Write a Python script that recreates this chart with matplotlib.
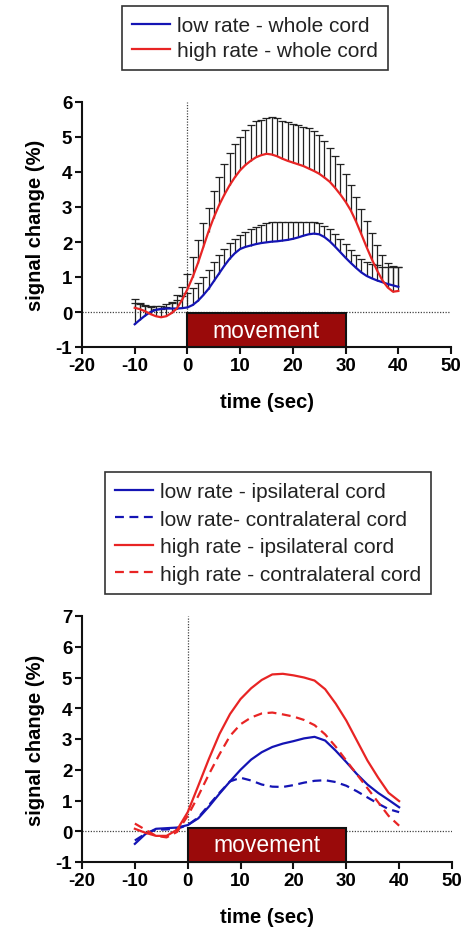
import numpy as np
import matplotlib
matplotlib.use("Agg")
import matplotlib.pyplot as plt
from matplotlib.patches import Rectangle

plt.rcParams['font.family'] = ['Liberation Sans', 'DejaVu Sans']
plt.rcParams['axes.unicode_minus'] = False

# ---------------- data ----------------
# top panel: 1-s samples from -10 to 40 s
t_top = list(range(-10, 41))
low_whole = [-0.35, -0.22, -0.10, 0.00, 0.06, 0.09, 0.10, 0.10, 0.10, 0.11,
             0.13, 0.20, 0.32, 0.48, 0.66, 0.88, 1.10, 1.32, 1.52, 1.68,
             1.80, 1.86, 1.90, 1.94, 1.97, 1.99, 2.01, 2.02, 2.04, 2.06,
             2.09, 2.13, 2.18, 2.22, 2.24, 2.22, 2.14, 2.02, 1.87, 1.71,
             1.55, 1.40, 1.26, 1.13, 1.03, 0.96, 0.90, 0.85, 0.80, 0.76,
             0.72]
low_whole_upper = [0.38, 0.25, 0.20, 0.18, 0.17, 0.18, 0.22, 0.27, 0.35, 0.45,
                   0.55, 0.68, 0.82, 1.00, 1.20, 1.42, 1.62, 1.80, 1.97, 2.10,
                   2.20, 2.28, 2.36, 2.42, 2.48, 2.53, 2.56, 2.57, 2.57, 2.57,
                   2.57, 2.57, 2.57, 2.57, 2.57, 2.55, 2.47, 2.36, 2.22, 2.08,
                   1.93, 1.78, 1.64, 1.52, 1.44, 1.38, 1.33, 1.30, 1.30, 1.30,
                   1.28]
high_whole = [0.12, 0.08, 0.02, -0.06, -0.12, -0.15, -0.12, -0.03, 0.10, 0.35,
              0.65, 1.00, 1.40, 1.85, 2.30, 2.70, 3.05, 3.35, 3.62, 3.85,
              4.05, 4.20, 4.32, 4.42, 4.48, 4.52, 4.50, 4.45, 4.38, 4.32,
              4.27, 4.22, 4.17, 4.10, 4.03, 3.95, 3.84, 3.72, 3.55, 3.36,
              3.15, 2.90, 2.58, 2.22, 1.85, 1.50, 1.18, 0.90, 0.70, 0.58,
              0.60]
high_whole_upper = [0.25, 0.22, 0.18, 0.14, 0.10, 0.10, 0.15, 0.30, 0.48, 0.72,
                    1.10, 1.58, 2.06, 2.54, 2.98, 3.45, 3.85, 4.22, 4.55, 4.80,
                    5.00, 5.20, 5.35, 5.45, 5.50, 5.54, 5.56, 5.54, 5.47, 5.42,
                    5.38, 5.34, 5.30, 5.25, 5.18, 5.06, 4.90, 4.70, 4.47, 4.22,
                    3.95, 3.62, 3.30, 2.95, 2.60, 2.25, 1.92, 1.62, 1.40, 1.32,
                    1.30]

# bottom panel: 2-s samples from -10 to 40 s
t_bot = list(range(-10, 41, 2))
low_ipsi = [-0.41, -0.09, 0.08, 0.10, 0.12, 0.20, 0.42, 0.80, 1.22, 1.62,
            2.00, 2.33, 2.57, 2.74, 2.85, 2.93, 3.02, 3.07, 2.95, 2.62,
            2.25, 1.86, 1.52, 1.25, 1.02, 0.78]
low_contra = [-0.30, -0.08, 0.05, 0.06, 0.08, 0.20, 0.45, 0.85, 1.25, 1.62,
              1.74, 1.65, 1.52, 1.45, 1.44, 1.50, 1.58, 1.64, 1.66, 1.60,
              1.48, 1.30, 1.10, 0.90, 0.72, 0.62]
high_ipsi = [0.08, -0.05, -0.15, -0.15, 0.05, 0.62, 1.48, 2.35, 3.16, 3.81,
             4.30, 4.65, 4.92, 5.10, 5.12, 5.07, 5.00, 4.90, 4.62, 4.15,
             3.60, 2.95, 2.30, 1.75, 1.25, 0.98]
high_contra = [0.25, 0.05, -0.15, -0.20, -0.02, 0.50, 1.15, 1.85, 2.50, 3.10,
               3.48, 3.70, 3.83, 3.86, 3.80, 3.73, 3.62, 3.45, 3.15, 2.75,
               2.30, 1.85, 1.40, 0.95, 0.50, 0.18]

legend_top = ["low rate - whole cord", "high rate - whole cord"]
legend_bot = ["low rate - ipsilateral cord", "low rate- contralateral cord",
              "high rate - ipsilateral cord", "high rate - contralateral cord"]

move_start, move_end = 0, 30
xticks = [-20, -10, 0, 10, 20, 30, 40, 50]

# ---------------- style ----------------
BLUE = '#1414b4'
RED = '#e82424'
BOX = '#9a0a0a'
LW = 1.6
TICKFS = 13.5
LABELFS = 14.5
LEGFS = 15

fig = plt.figure(figsize=(4.68, 9.28), dpi=100)
ax1 = fig.add_axes([82/468, 1-348/928, 369/468, 245/928])
ax2 = fig.add_axes([82/468, 1-863/928, 370/468, 246/928])


def style_axes(ax, ymax, box_top):
    ax.set_xlim(-20, 50)
    ax.set_ylim(-1, ymax)
    ax.set_xticks(xticks)
    ax.set_yticks(range(-1, ymax + 1))
    for s in ['top', 'right']:
        ax.spines[s].set_visible(False)
    for s in ['left', 'bottom']:
        ax.spines[s].set_linewidth(1.5)
        ax.spines[s].set_color('#111111')
    ax.tick_params(width=1.5, length=5, pad=2, labelsize=TICKFS, color='#111111')
    for lab in ax.get_xticklabels() + ax.get_yticklabels():
        lab.set_fontweight('bold')
    ax.axhline(0, color='#444444', lw=0.9, ls=(0, (1, 1.2)), zorder=1)
    ax.plot([0, 0], [0, ymax], color='#444444', lw=0.9, ls=(0, (1, 1.2)), zorder=1)
    ax.add_patch(Rectangle((move_start, -1), move_end - move_start, box_top + 1,
                           facecolor=BOX, edgecolor='#111111', lw=1.5, zorder=3,
                           clip_on=False))
    ax.text((move_start + move_end) / 2, (box_top - 1) / 2, 'movement', color='white',
            fontsize=16.5, ha='center', va='center', zorder=4)
    ax.set_xlabel('time (sec)', fontsize=LABELFS, fontweight='bold', labelpad=13)
    ax.set_ylabel('signal change (%)', fontsize=LABELFS, fontweight='bold', labelpad=8)


style_axes(ax1, 6, -0.04)
style_axes(ax2, 7, 0.12)

# top panel: error bars (upper only) and lines
for mean, upper in [(low_whole, low_whole_upper), (high_whole, high_whole_upper)]:
    ax1.vlines(t_top, mean, upper, color='#222222', lw=0.9, zorder=5)
    ax1.plot(t_top, upper, ls='none', marker='_', ms=6, mew=0.9, color='#222222', zorder=5)
l1, = ax1.plot(t_top, low_whole, color=BLUE, lw=LW, zorder=6)
l2, = ax1.plot(t_top, high_whole, color=RED, lw=LW, zorder=7)

# bottom panel
dash = (0, (4, 2.5))
b1, = ax2.plot(t_bot, low_ipsi, color=BLUE, lw=LW, zorder=6)
b2, = ax2.plot(t_bot, low_contra, color=BLUE, lw=LW, ls=dash, zorder=6)
b3, = ax2.plot(t_bot, high_ipsi, color=RED, lw=LW, zorder=7)
b4, = ax2.plot(t_bot, high_contra, color=RED, lw=LW, ls=dash, zorder=7)

leg_kw = dict(fontsize=LEGFS, fancybox=False, edgecolor='#333333', handlelength=1.8,
              handletextpad=0.33, borderpad=0.48, borderaxespad=0, framealpha=1,
              labelcolor='#222222')
lg1 = fig.legend([l1, l2], legend_top, loc='upper center',
                 bbox_to_anchor=(255/468, 1-7/928), labelspacing=0.28, **leg_kw)
lg2 = fig.legend([b1, b2, b3, b4], legend_bot, loc='upper center',
                 bbox_to_anchor=(268/468, 1-473/928), labelspacing=0.41, **leg_kw)
for lg in (lg1, lg2):
    lg.get_frame().set_linewidth(1.2)

fig.savefig('out.png', dpi=100)
